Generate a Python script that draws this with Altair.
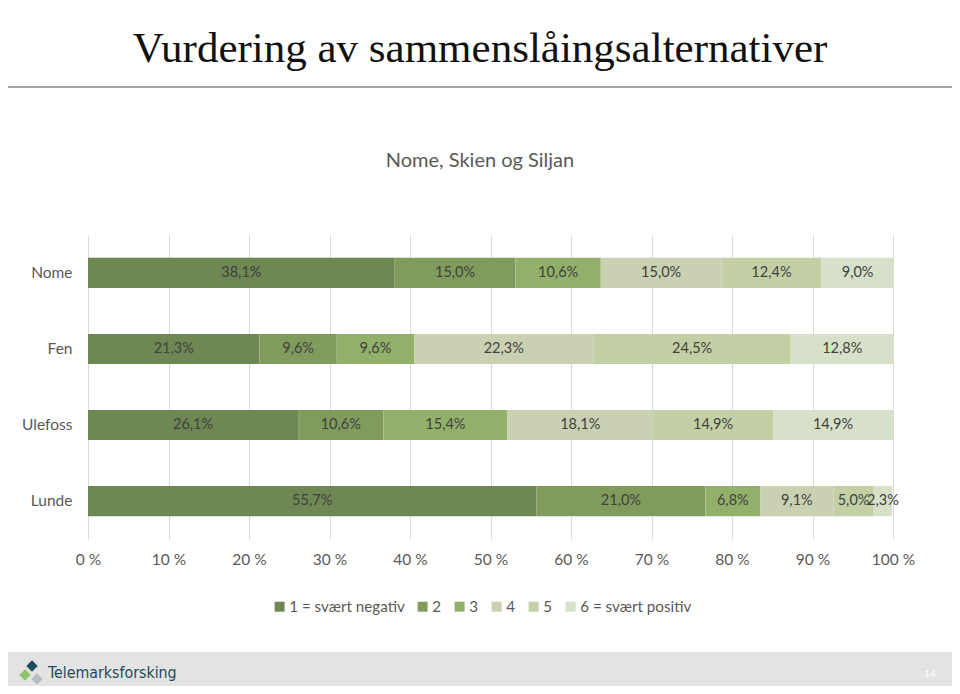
import altair as alt
import pandas as pd

regions = ["Nome", "Fen", "Ulefoss", "Lunde"]
series = ["1 = svært negativ", "2", "3", "4", "5", "6 = svært positiv"]
nome = [38.1, 15.0, 10.6, 15.0, 12.4, 9.0]
fen = [21.3, 9.6, 9.6, 22.3, 24.5, 12.8]
ulefoss = [26.1, 10.6, 15.4, 18.1, 14.9, 14.9]
lunde = [55.7, 21.0, 6.8, 9.1, 5.0, 2.3]
colors = ["#6f8752", "#819b5c", "#93b06a", "#c9d1b2", "#c3d0a6", "#d7e1c9"]
x_ticks = [0, 10, 20, 30, 40, 50, 60, 70, 80, 90, 100]

title_text = "Vurdering av sammenslåingsalternativer"
subtitle_text = "Nome, Skien og Siljan"
logo_text = "Telemarksforsking"
page_text = "14"

rows = []
for reg, vals in zip(regions, [nome, fen, ulefoss, lunde]):
    for i, (s, v) in enumerate(zip(series, vals)):
        rows.append({"region": reg, "series": s, "order": i, "value": v})
df = pd.DataFrame(rows)

W, H = 805, 304
FONT = "Lato"

base = alt.Chart(df).transform_stack(
    stack="value", groupby=["region"], sort=[alt.SortField("order")], as_=["x0", "x1"]
).transform_calculate(
    mid="(datum.x0 + datum.x1) / 2",
    label="replace(format(datum.value, '.1f'), '.', ',') + '%'",
)

yenc = alt.Y(
    "region:N",
    sort=regions,
    title=None,
    scale=alt.Scale(paddingInner=0.605, paddingOuter=0.3),
    axis=alt.Axis(domain=False, ticks=False, labelPadding=16, labelFontSize=15.5,
                  labelColor="#595959", labelFont=FONT, grid=False),
)

bars = base.mark_bar().encode(
    x=alt.X("x0:Q", title=None,
            scale=alt.Scale(domain=[0, 100], nice=False),
            axis=alt.Axis(values=x_ticks, domain=False, ticks=False, grid=True,
                          gridColor="#d9d9d9", gridWidth=1, labelPadding=13,
                          labelFontSize=15.5, labelColor="#595959", labelFont=FONT,
                          labelFlush=False, labelOverlap=False,
                          labelExpr="datum.value + ' %'")),
    x2="x1:Q",
    y=yenc,
    color=alt.Color("series:N", sort=series,
                    scale=alt.Scale(domain=series, range=colors),
                    legend=alt.Legend(title=None, orient="none", direction="horizontal",
                                      legendX=184, legendY=364, symbolType="square",
                                      symbolSize=100, symbolStrokeWidth=0,
                                      labelFontSize=15.2, labelColor="#595959",
                                      labelFont=FONT, columnPadding=10, labelOffset=2)),
    order=alt.Order("order:Q"),
)

labels = base.mark_text(fontSize=14.5, color="#404040", font=FONT).encode(
    x=alt.X("mid:Q"),
    y=alt.Y("region:N", sort=regions),
    text="label:N",
)

one = pd.DataFrame({"a": [0]})

title = alt.Chart(pd.DataFrame({"t": [title_text]})).mark_text(
    font="Liberation Serif", fontSize=43, color="#111111", align="center", baseline="alphabetic"
).encode(text="t:N", x=alt.value(392), y=alt.value(-173))

subtitle = alt.Chart(pd.DataFrame({"t": [subtitle_text]})).mark_text(
    font=FONT, fontSize=20, color="#595959", align="center", baseline="middle"
).encode(text="t:N", x=alt.value(392), y=alt.value(-74))

hline = alt.Chart(one).mark_rule(color="#a6a6a6", strokeWidth=2).encode(
    x=alt.value(-80), x2=alt.value(864), y=alt.value(-148))

footer = alt.Chart(one).mark_rect(color="#e3e3e3").encode(
    x=alt.value(-80), x2=alt.value(864), y=alt.value(417), y2=alt.value(451))

logo_df = pd.DataFrame({
    "px": [-56, -63, -51],
    "py": [431, 440, 444],
    "c": ["#1f4e5f", "#8dc36b", "#b5bcc2"],
})
logo_icon = alt.Chart(logo_df).mark_point(shape="diamond", filled=True, size=130, opacity=1).encode(
    x=alt.X("px:Q", scale=None), y=alt.Y("py:Q", scale=None),
    color=alt.Color("c:N", scale=None),
)

logo = alt.Chart(pd.DataFrame({"t": [logo_text]})).mark_text(
    font="'DejaVu Sans Condensed', 'Roboto', sans-serif", fontSize=15.8, color="#1f4a5c",
    align="left", baseline="middle"
).encode(text="t:N", x=alt.value(-40), y=alt.value(438))

page = alt.Chart(pd.DataFrame({"t": [page_text]})).mark_text(
    font=FONT, fontSize=10, color="#ffffff", align="center", baseline="middle"
).encode(text="t:N", x=alt.value(842), y=alt.value(439))

chart = alt.layer(
    footer, hline, bars, labels, title, subtitle, logo_icon, logo, page
).resolve_scale(color="independent").properties(
    width=W, height=H,
    autosize=alt.AutoSizeParams(type="none"),
    padding={"left": 80, "top": 227, "right": 59, "bottom": 147},
    background="white",
).configure_view(stroke=None)

chart.save("out.html", embed_options={"renderer": "svg", "actions": False})
